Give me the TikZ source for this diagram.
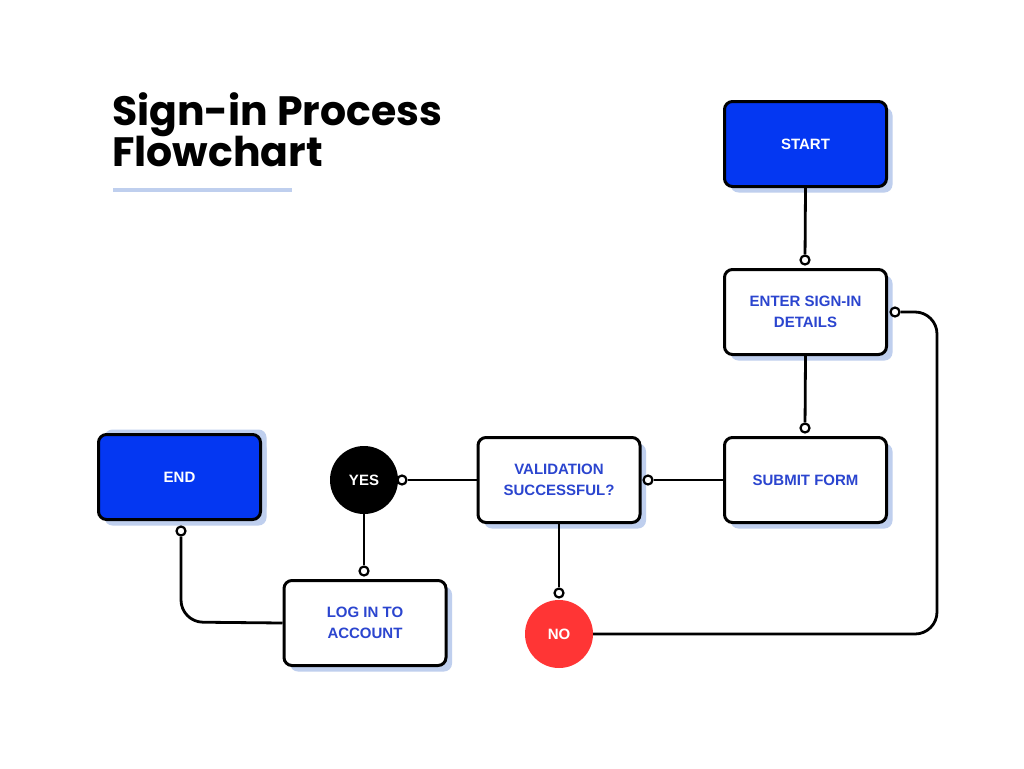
\documentclass[tikz,border=0pt]{standalone}
\usepackage{fontspec}
\setmainfont{Liberation Sans}
\newfontfamily\titlefont{Poppins}
\usetikzlibrary{shadows,calc}
\definecolor{bluefill}{HTML}{0437F2}
\definecolor{lbltext}{HTML}{2B45CF}
\definecolor{shadowc}{HTML}{BFCFEE}
\definecolor{redfill}{HTML}{FF3535}
\tikzset{
  box/.style={draw=black, line width=3pt, rounded corners=8pt, fill=white,
    minimum width=162pt, minimum height=85pt, align=center, inner sep=0pt,
    text=lbltext, font=\bfseries\fontsize{15}{21}\selectfont,
    drop shadow={shadow xshift=6pt, shadow yshift=-6pt, fill=shadowc, opacity=1}},
  termbox/.style={box, fill=bluefill, text=white},
  decision/.style={circle, minimum size=68pt, inner sep=0pt, text=white,
    font=\bfseries\fontsize{15}{18}\selectfont},
  dot/.style={circle, draw=black, fill=white, line width=2.2pt, minimum size=9pt, inner sep=0pt},
  link/.style={line width=2.8pt, draw=black},
  titlestyle/.style={anchor=base west, inner sep=0pt, font=\titlefont\bfseries\fontsize{41}{44}\selectfont},
}
\begin{document}
\begin{tikzpicture}[x=1pt,y=-1pt]
\useasboundingbox[fill=white] (0,0) rectangle (1024,768);
% title
\node[titlestyle] (titleA) at (112,125) {Sign-in Process};
\node[titlestyle] (titleB) at (112,166) {Flowchart};
\fill[shadowc] (113,188) rectangle (292,192);
% boxes
\node[termbox] (start) at (805.5,144) {START};
\node[box] (enter) at (805.5,312) {ENTER SIGN-IN\\DETAILS};
\node[box] (submit) at (805.5,480) {SUBMIT FORM};
\node[box] (valid) at (559,480) {VALIDATION\\SUCCESSFUL?};
\node[termbox, drop shadow={shadow xshift=6pt, shadow yshift=5pt, fill=shadowc, opacity=1}] (end) at (179.5,477) {END};
\node[box] (login) at (365,623) {LOG IN TO\\ACCOUNT};
\node[decision, fill=black] (yes) at (364,480) {YES};
\node[decision, fill=redfill] (no) at (559,634) {NO};
% end markers
\node[dot] (d1) at (805,260) {};
\node[dot] (d2) at (805,428) {};
\node[dot] (d3) at (648,480) {};
\node[dot] (d4) at (402,480) {};
\node[dot] (d5) at (364,571) {};
\node[dot] (d6) at (559,593) {};
\node[dot] (d7) at (895,312) {};
\node[dot] (d8) at (181,531) {};
% connectors
\draw[link] (start.south) -- (d1);
\draw[link] (enter.south) -- (d2);
\draw[link] (submit.west) -- (d3);
\draw[link] (valid.west) -- (d4);
\draw[link] (yes.south) -- (d5);
\draw[link] (valid.south) -- (d6);
\draw[link, rounded corners=22pt] (no.east) -- (937,634) -- (937,312) -- (d7);
\draw[link, rounded corners=22pt] (login.west) -- (181,622) -- (d8);
\end{tikzpicture}
\end{document}
